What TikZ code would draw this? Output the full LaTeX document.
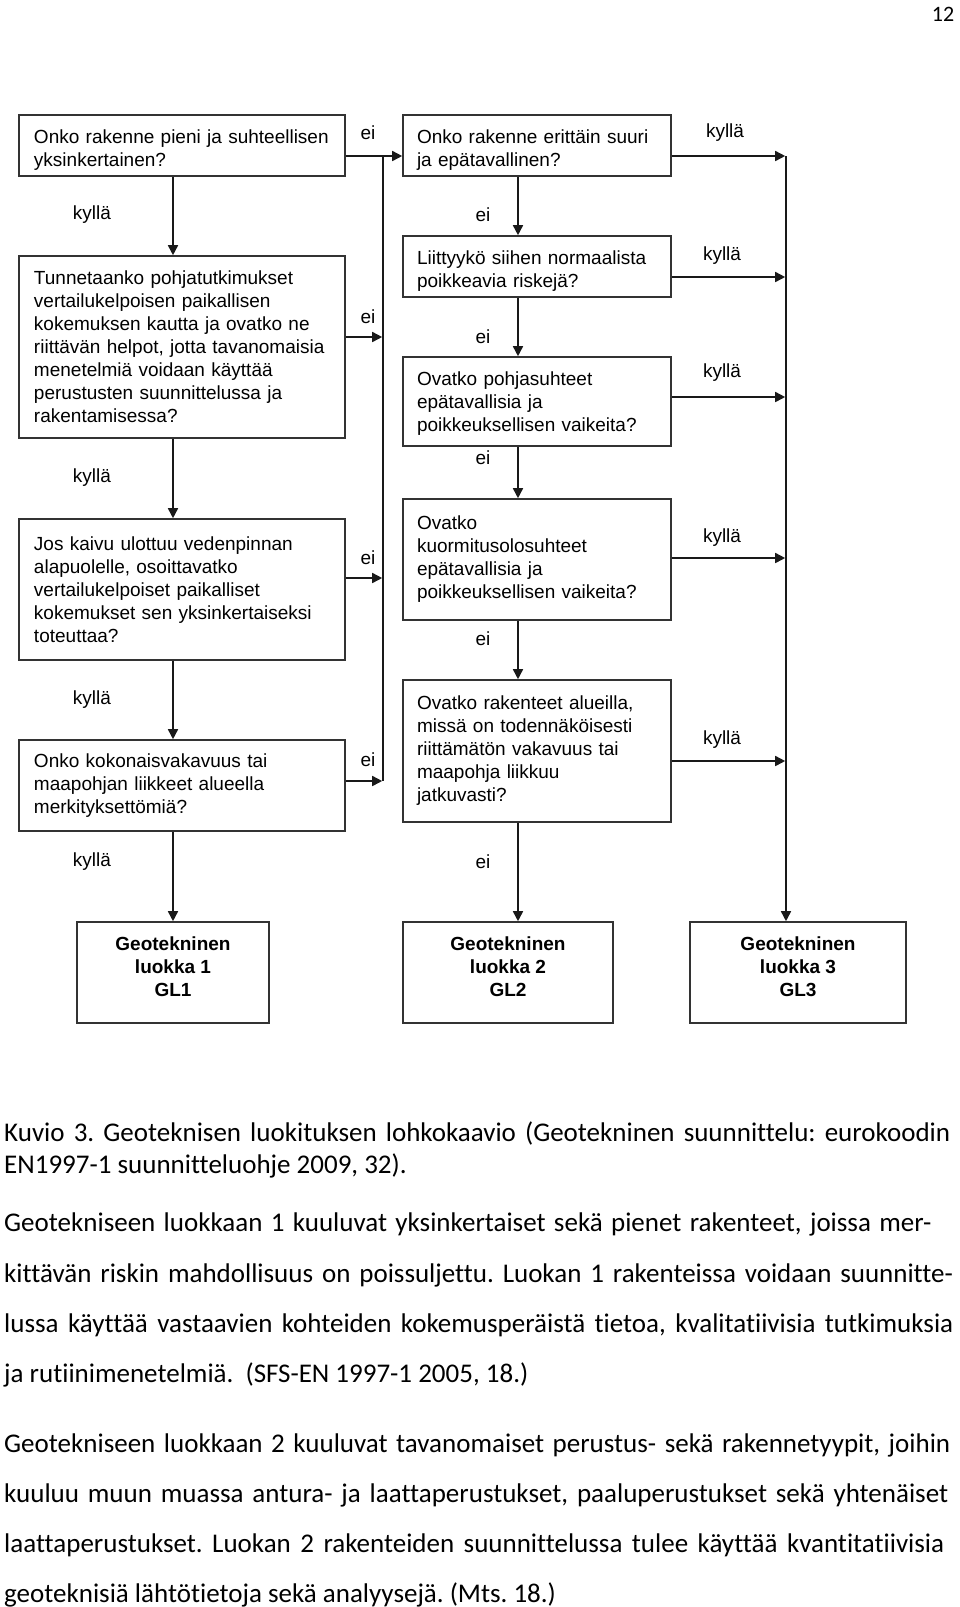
\documentclass[tikz,border=0pt]{standalone}
\usepackage{fontspec}
\setmainfont{Liberation Sans}
\newfontfamily\bodyfont[Ligatures=NoCommon]{Carlito}
\usetikzlibrary{arrows.meta}
\newcommand\dfont{\fontsize{19}{23}\selectfont}
\newcommand\bfontb{\bodyfont\fontsize{27}{33}\selectfont\frenchspacing}
\newcommand\dn{\rule{0pt}{23pt}}
\newcommand\up{\rule[-12pt]{0pt}{12pt}}
\begin{document}
\begin{tikzpicture}[x=1pt,y=-1pt,
  box/.style={draw=black!80, line width=1.6pt, align=left, inner ysep=0pt, font=\dfont},
  abox/.style={box, text width=296pt, inner xsep=15pt, minimum width=326pt},
  bbox/.style={box, text width=240pt, inner xsep=14pt, minimum width=268pt},
  glbox/.style={draw=black!80, line width=1.6pt, align=center, inner sep=0pt, font=\dfont\bfseries, minimum height=101pt},
  arr/.style={draw=black!90, line width=1.6pt, -{Triangle[length=10pt,width=10pt]}},
  ln/.style={draw=black!90, line width=1.6pt},
  lab/.style={font=\dfont, inner sep=0pt},
  bl/.style={anchor=mid west, inner sep=0pt, font=\bfontb}]
\useasboundingbox (0,0) rectangle (960,1607);

% page number
\node[font=\bodyfont\fontsize{22}{26}\selectfont, inner sep=0pt] (pg) at (943,14) {12};

% left column
\node[abox, minimum height=61pt] (a1) at (182,145.5) {\dn Onko rakenne pieni ja suhteellisen\\yksinkertainen?};
\node[abox, minimum height=182pt] (a2) at (182,347) {Tunnetaanko pohjatutkimukset\\vertailukelpoisen paikallisen\\kokemuksen kautta ja ovatko ne\\riittävän helpot, jotta tavanomaisia\\menetelmiä voidaan käyttää\\perustusten suunnittelussa ja\\rakentamisessa?};
\node[abox, minimum height=141pt] (a3) at (182,589.5) {Jos kaivu ulottuu vedenpinnan\\alapuolelle, osoittavatko\\vertailukelpoiset paikalliset\\kokemukset sen yksinkertaiseksi\\toteuttaa?};
\node[abox, minimum height=91pt] (a4) at (182,785.5) {Onko kokonaisvakavuus tai\\maapohjan liikkeet alueella\\merkityksettömiä?};

% middle column
\node[bbox, minimum height=61pt] (b1) at (537,145.5) {\dn Onko rakenne erittäin suuri\\ja epätavallinen?};
\node[bbox, minimum height=61pt] (b2) at (537,266.5) {\dn Liittyykö siihen normaalista\\poikkeavia riskejä?};
\node[bbox, minimum height=89pt] (b3) at (537,401.5) {\rule{0pt}{17pt}Ovatko pohjasuhteet\\epätavallisia ja\\poikkeuksellisen vaikeita?};
\node[bbox, minimum height=121pt] (b4) at (537,559.5) {Ovatko\\kuormitusolosuhteet\\epätavallisia ja\\poikkeuksellisen vaikeita?};
\node[bbox, minimum height=142pt] (b5) at (537,751) {Ovatko rakenteet alueilla,\\missä on todennäköisesti\\riittämätön vakavuus tai\\maapohja liikkuu\\jatkuvasti?};

% result boxes
\node[glbox, minimum width=192pt] (gl1) at (173,972.5) {Geotekninen\\luokka 1\\GL1\up};
\node[glbox, minimum width=210pt] (gl2) at (508,972.5) {Geotekninen\\luokka 2\\GL2\up};
\node[glbox, minimum width=216pt] (gl3) at (798,972.5) {Geotekninen\\luokka 3\\GL3\up};

% helper coordinates
\coordinate (xa) at (173,0);
\coordinate (xb) at (518,0);
\coordinate (tl) at (383,156);
\coordinate (tlb) at (383,781);
\coordinate (tr) at (786,156);

% left column downward arrows
\draw[arr] (a1.south -| xa) -- (a2.north -| xa);
\draw[arr] (a2.south -| xa) -- (a3.north -| xa);
\draw[arr] (a3.south -| xa) -- (a4.north -| xa);
\draw[arr] (a4.south -| xa) -- (gl1.north -| xa);
\node[lab] (k1) at (92,215) {kyllä};
\node[lab] (k2) at (92,478) {kyllä};
\node[lab] (k3) at (92,700) {kyllä};
\node[lab] (k4) at (92,862) {kyllä};

% left "ei" arrows and trunk
\draw[ln] (tl) -- (tlb);
\draw[arr] (a1.east |- tl) -- (b1.west |- tl);
\draw[arr, shorten >=0.8pt] (a2.east |- 0,337) -- (tl |- 0,337);
\draw[arr, shorten >=0.8pt] (a3.east |- 0,578) -- (tl |- 0,578);
\draw[arr, shorten >=0.8pt] (a4.east |- tlb) -- (tlb);
\node[lab] (e1) at (368,133) {ei};
\node[lab] (e2) at (368,317) {ei};
\node[lab] (e3) at (368,558) {ei};
\node[lab] (e4) at (368,760) {ei};

% middle column downward arrows
\draw[arr] (b1.south -| xb) -- (b2.north -| xb);
\draw[arr] (b2.south -| xb) -- (b3.north -| xb);
\draw[arr] (b3.south -| xb) -- (b4.north -| xb);
\draw[arr] (b4.south -| xb) -- (b5.north -| xb);
\draw[arr] (b5.south -| xb) -- (gl2.north -| xb);
\node[lab] (m1) at (483,215) {ei};
\node[lab] (m2) at (483,337) {ei};
\node[lab] (m3) at (483,458) {ei};
\node[lab] (m4) at (483,639) {ei};
\node[lab] (m5) at (483,862) {ei};

% right trunk and "kyllä" arrows
\draw[arr] (tr) -- (gl3.north -| tr);
\draw[arr, shorten >=0.8pt] (b1.east |- tr) -- (tr);
\draw[arr, shorten >=0.8pt] (b2.east |- 0,277) -- (tr |- 0,277);
\draw[arr, shorten >=0.8pt] (b3.east |- 0,397) -- (tr |- 0,397);
\draw[arr, shorten >=0.8pt] (b4.east |- 0,558) -- (tr |- 0,558);
\draw[arr, shorten >=0.8pt] (b5.east |- 0,761) -- (tr |- 0,761);
\node[lab] (r1) at (725,133) {kyllä};
\node[lab] (r2) at (722,256) {kyllä};
\node[lab] (r3) at (722,373) {kyllä};
\node[lab] (r4) at (722,538) {kyllä};
\node[lab] (r5) at (722,740) {kyllä};

% body text
\node[bl] (c1) at (4,1139) {\makebox[946pt][s]{Kuvio 3. Geoteknisen luokituksen lohkokaavio (Geotekninen suunnittelu: eurokoodin}};
\node[bl] (c2) at (4,1171) {EN1997-1 suunnitteluohje 2009, 32).};
\node[bl] (p1) at (4,1229) {\makebox[927pt][s]{Geotekniseen luokkaan 1 kuuluvat yksinkertaiset sekä pienet rakenteet, joissa mer-}};
\node[bl] (p2) at (4,1280) {\makebox[949pt][s]{kittävän riskin mahdollisuus on poissuljettu. Luokan 1 rakenteissa voidaan suunnitte-}};
\node[bl] (p3) at (4,1330) {\makebox[949pt][s]{lussa käyttää vastaavien kohteiden kokemusperäistä tietoa, kvalitatiivisia tutkimuksia}};
\node[bl] (p4) at (4,1380) {ja rutiinimenetelmiä.\ \ (SFS-EN 1997-1 2005, 18.)};
\node[bl] (q1) at (4,1450) {\makebox[946pt][s]{Geotekniseen luokkaan 2 kuuluvat tavanomaiset perustus- sekä rakennetyypit, joihin}};
\node[bl] (q2) at (4,1500) {\makebox[944pt][s]{kuuluu muun muassa antura- ja laattaperustukset, paaluperustukset sekä yhtenäiset}};
\node[bl] (q3) at (4,1550) {\makebox[940pt][s]{laattaperustukset. Luokan 2 rakenteiden suunnittelussa tulee käyttää kvantitatiivisia}};
\node[bl] (q4) at (4,1600) {geoteknisiä lähtötietoja sekä analyysejä. (Mts. 18.)};
\end{tikzpicture}
\end{document}
